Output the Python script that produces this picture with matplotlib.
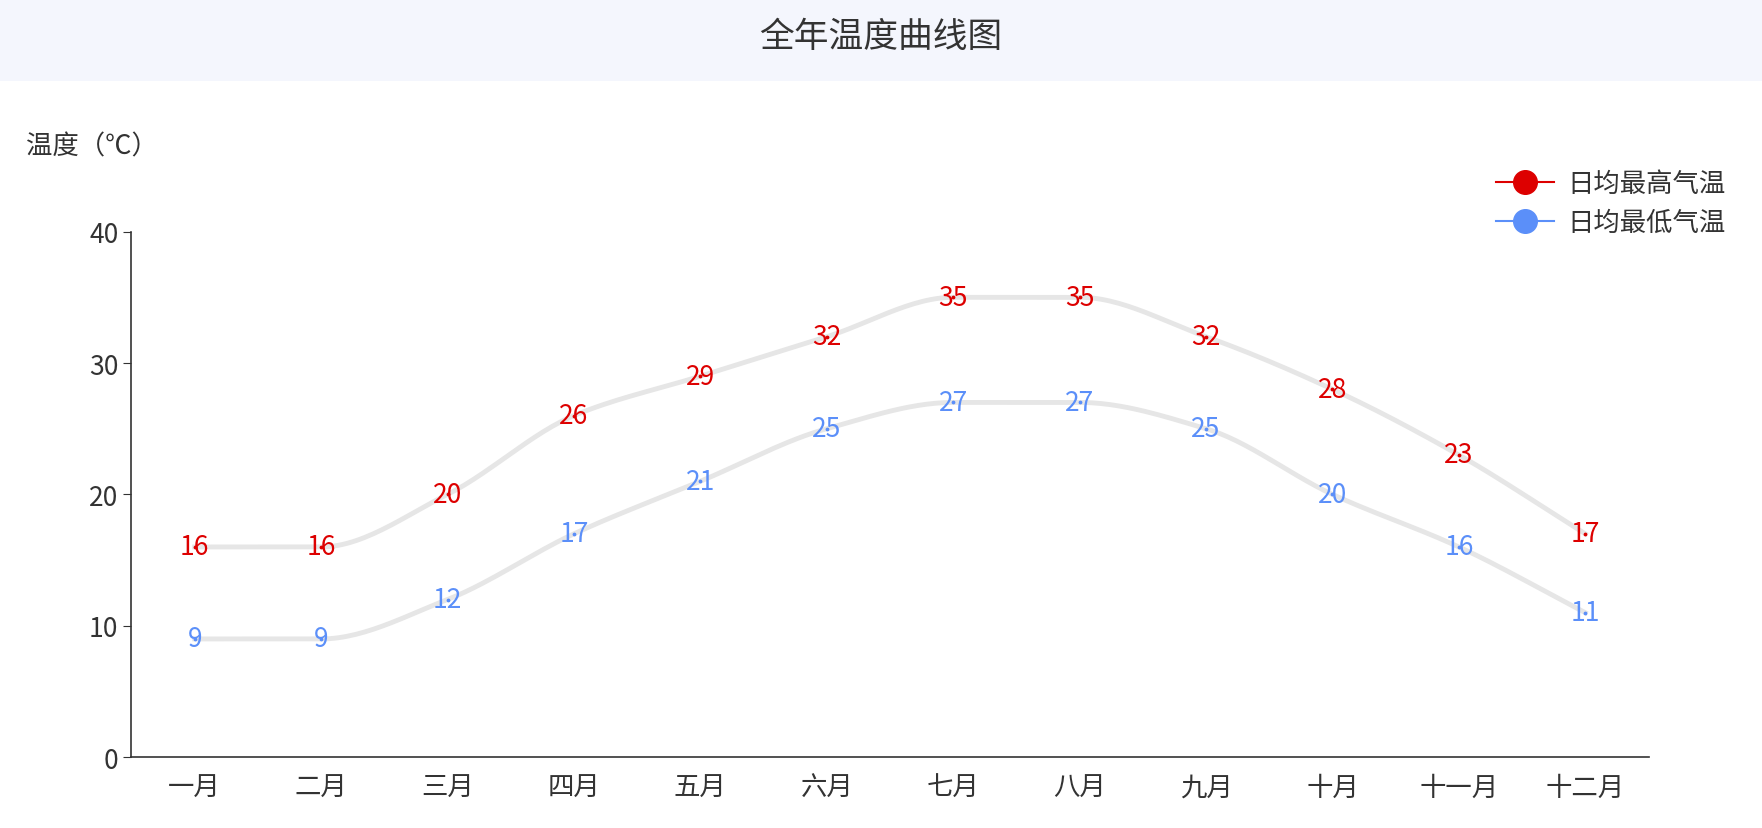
import matplotlib
matplotlib.use("Agg")
import matplotlib.pyplot as plt
from matplotlib.patches import Rectangle
from matplotlib.lines import Line2D
import numpy as np

plt.rcParams['font.family'] = ['Noto Sans CJK SC', 'DejaVu Sans']

months = ["一月","二月","三月","四月","五月","六月","七月","八月","九月","十月","十一月","十二月"]
high = [16,16,20,26,29,32,35,35,32,28,23,17]
low = [9,9,12,17,21,25,27,27,25,20,16,11]
high_color = "#dd0000"
low_color = "#5b8ff9"

def smooth(x, y, n=30):
    x = np.asarray(x, float); y = np.asarray(y, float)
    h = np.diff(x); d = np.diff(y) / h
    m = np.zeros_like(y)
    m[0], m[-1] = d[0], d[-1]
    for i in range(1, len(y) - 1):
        if d[i-1] * d[i] <= 0:
            m[i] = 0
        else:
            m[i] = 2 / (1/d[i-1] + 1/d[i])
    xs, ys = [], []
    for i in range(len(h)):
        t = np.linspace(0, 1, n)
        h00 = 2*t**3 - 3*t**2 + 1; h10 = t**3 - 2*t**2 + t
        h01 = -2*t**3 + 3*t**2; h11 = t**3 - t**2
        xs.append(x[i] + t*h[i])
        ys.append(h00*y[i] + h10*h[i]*m[i] + h01*y[i+1] + h11*h[i]*m[i+1])
    return np.concatenate(xs), np.concatenate(ys)

fig = plt.figure(figsize=(17.62, 8.29), dpi=100)
fig.patches.append(Rectangle((0, 0.901), 1, 0.099, transform=fig.transFigure,
                             facecolor="#f4f6fd", edgecolor="none", zorder=0))
fig.text(0.5, 0.955, "全年温度曲线图", ha="center", va="center", fontsize=25, color="#333333")

ax = fig.add_axes([0.0746, 0.0854, 0.861, 0.634])
x = np.arange(len(months))
for vals, col in [(high, high_color), (low, low_color)]:
    sx, sy = smooth(x, vals)
    ax.plot(sx, sy, color="#e6e6e6", lw=3.5, zorder=2)
    ax.scatter(x, vals, s=3, color=col, zorder=3)
    for xi, v in zip(x, vals):
        ax.text(xi, v, str(v), ha="center", va="center", fontsize=19, color=col, zorder=4)

ax.set_xlim(-0.5, 11.5)
ax.set_ylim(0, 40)
ax.set_xticks(x)
ax.set_xticklabels(months)
ax.set_yticks([0, 10, 20, 30, 40])
ax.tick_params(axis='x', length=0, labelsize=19, labelcolor="#333333", pad=12)
ax.tick_params(axis='y', length=6, labelsize=19, labelcolor="#333333", color="#333333")
for s in ["top", "right"]:
    ax.spines[s].set_visible(False)
for s in ["left", "bottom"]:
    ax.spines[s].set_color("#333333")
    ax.spines[s].set_linewidth(1.2)

fig.text(0.015, 0.823, "温度（℃）", ha="left", va="center", fontsize=19, color="#333333")

handles = [Line2D([0], [0], color=high_color, marker='o', markersize=17, lw=1.5),
           Line2D([0], [0], color=low_color, marker='o', markersize=17, lw=1.5)]
fig.legend(handles, ["日均最高气温", "日均最低气温"], loc="upper right",
           bbox_to_anchor=(0.993, 0.822), frameon=False, fontsize=19,
           handlelength=2.2, labelspacing=0.45, handletextpad=0.5, labelcolor="#333333")

fig.savefig("out.png", dpi=100)
